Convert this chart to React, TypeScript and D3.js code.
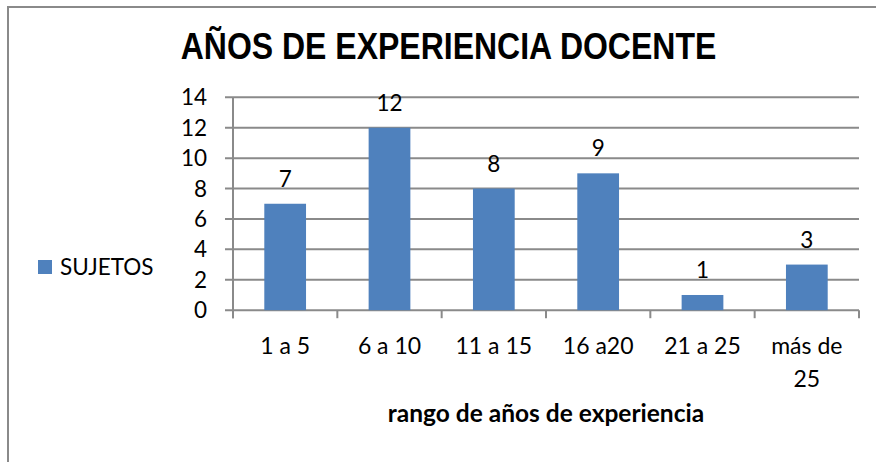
import React from "react";
import * as d3 from "d3";

const categories: string[][] = [["1 a 5"], ["6 a 10"], ["11 a 15"], ["16 a20"], ["21 a 25"], ["más de", "25"]];
const values: number[] = [7, 12, 8, 9, 1, 3];
const yTicks: number[] = [0, 2, 4, 6, 8, 10, 12, 14];
const title = "AÑOS DE EXPERIENCIA DOCENTE";
const seriesName = "SUJETOS";
const xTitle = "rango de años de experiencia";

const W = 876;
const H = 462;
const left = 233;
const right = 859;
const top = 97.3;
const bottom = 310.2;
const barColor = "#4f81bd";
const gridColor = "#8a8a8a";
const bodyFont = "Lato, 'Open Sans', sans-serif";

export default function App() {
  const x = d3
    .scaleBand<number>()
    .domain(values.map((_, i) => i))
    .range([left, right])
    .paddingInner(0.6)
    .paddingOuter(0.3);
  const y = d3.scaleLinear().domain([0, 14]).range([bottom, top]);
  const step = x.step();
  const boundaries = d3.range(categories.length + 1).map((i) => left + i * step);

  return (
    <svg width={W} height={H} style={{ position: "absolute", left: 0, top: 0, background: "#fff" }}>
      <rect x={8} y={7} width={W + 10} height={H + 10} fill="#fff" stroke="#8a8a8a" strokeWidth={2} />
      <g transform="translate(448.5,59) scale(1,1.15)">
        <text
          x={0}
          y={0}
          textAnchor="middle"
          fontFamily="'Liberation Sans', Arial, sans-serif"
          fontWeight="bold"
          fontSize={32}
          fill="#000"
        >
          {title}
        </text>
      </g>
      {/* gridlines */}
      {yTicks.map((t) => (
        <line key={"g" + t} x1={left - 8} x2={right} y1={y(t)} y2={y(t)} stroke={gridColor} strokeWidth={2} />
      ))}
      {/* y axis */}
      <line x1={left} x2={left} y1={top} y2={bottom + 8} stroke={gridColor} strokeWidth={2} />
      {boundaries.map((b, i) => (
        <line key={"xt" + i} x1={b} x2={b} y1={bottom} y2={bottom + 8} stroke={gridColor} strokeWidth={2} />
      ))}
      {yTicks.map((t) => (
        <text
          key={"yl" + t}
          x={207}
          y={y(t)}
          dy="0.36em"
          textAnchor="end"
          fontFamily={bodyFont}
          fontSize={22.5}
          fill="#000"
        >
          {t}
        </text>
      ))}
      {values.map((v, i) => (
        <g key={"b" + i}>
          <rect x={x(i)} y={y(v)} width={x.bandwidth()} height={bottom - y(v)} fill={barColor} />
          <text
            x={(x(i) as number) + x.bandwidth() / 2}
            y={y(v) - 17}
            textAnchor="middle"
            fontFamily={bodyFont}
            fontSize={22.5}
            fill="#000"
          >
            {v}
          </text>
        </g>
      ))}
      {categories.map((lines, i) =>
        lines.map((ln, j) => (
          <text
            key={"xl" + i + "-" + j}
            x={(x(i) as number) + x.bandwidth() / 2}
            y={354 + j * 33}
            textAnchor="middle"
            fontFamily={bodyFont}
            fontSize={23}
            fill="#000"
          >
            {ln}
          </text>
        ))
      )}
      <text
        x={546}
        y={422}
        textAnchor="middle"
        fontFamily={bodyFont}
        fontWeight="bold"
        fontSize={24.5}
        fill="#000"
      >
        {xTitle}
      </text>
      {/* legend */}
      <rect x={38} y={260} width={14} height={14} fill={barColor} />
      <text x={60} y={275} fontFamily={bodyFont} fontSize={22.5} fill="#000">
        {seriesName}
      </text>
    </svg>
  );
}
